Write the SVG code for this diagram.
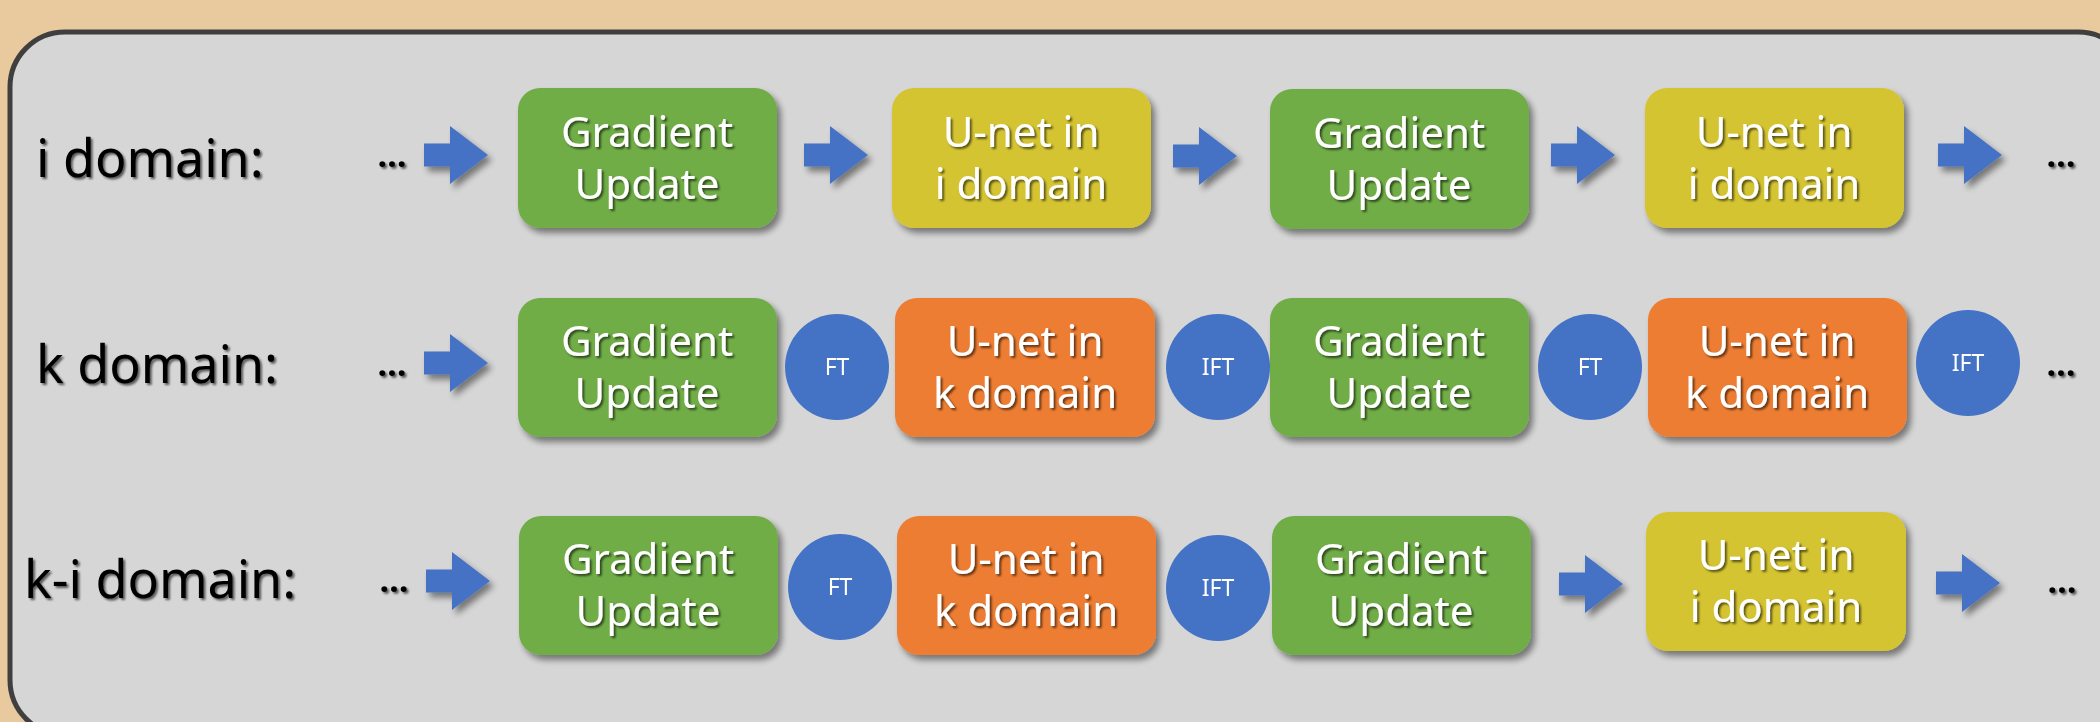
<svg xmlns="http://www.w3.org/2000/svg" width="2100" height="722" viewBox="0 0 2100 722">
<defs>
<filter id="sh" x="-10%" y="-10%" width="130%" height="130%">
<feGaussianBlur in="SourceAlpha" stdDeviation="3"/>
<feOffset dx="4" dy="5" result="b"/>
<feComponentTransfer><feFuncA type="linear" slope="0.45"/></feComponentTransfer>
<feMerge><feMergeNode/><feMergeNode in="SourceGraphic"/></feMerge>
</filter>
<filter id="tsh" x="-10%" y="-20%" width="130%" height="150%">
<feGaussianBlur in="SourceAlpha" stdDeviation="1.2"/>
<feOffset dx="2" dy="2"/>
<feComponentTransfer><feFuncA type="linear" slope="0.6"/></feComponentTransfer>
<feMerge><feMergeNode/><feMergeNode in="SourceGraphic"/></feMerge>
</filter>
<path id="arr" d="M0,-11.5 H26 V-29 L64,0 L26,29 V11.5 H0 Z"/>
</defs>
<style>
.green{fill:#70AD47}
.yellow{fill:#D4C433}
.orange{fill:#ED7D31}
.blue{fill:#4472C4}
.box text{font-family:"Noto Sans","DejaVu Sans",sans-serif;font-size:42px;fill:#FFFFFF;text-anchor:middle}
.circ text{font-family:"Noto Sans","DejaVu Sans",sans-serif;font-size:23px;fill:#FFFFFF;text-anchor:middle}
.lbl{font-family:"Noto Sans","DejaVu Sans",sans-serif;font-size:52px;fill:#000000}
.dots{font-family:"Noto Sans","DejaVu Sans",sans-serif;font-size:34px;font-weight:bold;fill:#000000;text-anchor:middle}
.arrow{fill:#4472C4}
</style>
<rect x="0" y="0" width="2100" height="722" fill="#E8CA9E"/>
<rect x="10" y="32" width="2123" height="703" rx="55" ry="55" fill="#D6D6D6" stroke="#3F3F3F" stroke-width="5"/>

<g id="labels">
<text class="lbl" x="36" y="177" filter="url(#tsh)">i domain:</text>
<text class="lbl" x="36" y="383" filter="url(#tsh)">k domain:</text>
<text class="lbl" x="24" y="598" filter="url(#tsh)">k-i domain:</text>
<text class="dots" x="392" y="167" filter="url(#tsh)">…</text>
<text class="dots" x="392" y="376" filter="url(#tsh)">…</text>
<text class="dots" x="394" y="592" filter="url(#tsh)">…</text>
<text class="dots" x="2061" y="167" filter="url(#tsh)">…</text>
<text class="dots" x="2061" y="376" filter="url(#tsh)">…</text>
<text class="dots" x="2062" y="593" filter="url(#tsh)">…</text>
</g>

<g id="connectors" filter="url(#sh)">
<use href="#arr" class="arrow" x="424" y="155"/>
<use href="#arr" class="arrow" x="804" y="155"/>
<use href="#arr" class="arrow" x="1173" y="156"/>
<use href="#arr" class="arrow" x="1551" y="155"/>
<use href="#arr" class="arrow" x="1938" y="155"/>
<use href="#arr" class="arrow" x="424" y="363"/>
<use href="#arr" class="arrow" x="426" y="581"/>
<use href="#arr" class="arrow" x="1559" y="584"/>
<use href="#arr" class="arrow" x="1936" y="583"/>
</g>

<!-- Row 1 -->
<g id="r1-grad1" class="box"><rect class="green" x="518" y="88" width="259" height="140" rx="22" filter="url(#sh)"/><g filter="url(#tsh)"><text x="647" y="147">Gradient</text><text x="647" y="199">Update</text></g></g>
<g id="r1-unet1" class="box"><rect class="yellow" x="892" y="88" width="259" height="140" rx="22" filter="url(#sh)"/><g filter="url(#tsh)"><text x="1021" y="147">U-net in</text><text x="1021" y="199">i domain</text></g></g>
<g id="r1-grad2" class="box"><rect class="green" x="1270" y="89" width="259" height="140" rx="22" filter="url(#sh)"/><g filter="url(#tsh)"><text x="1399" y="148">Gradient</text><text x="1399" y="200">Update</text></g></g>
<g id="r1-unet2" class="box"><rect class="yellow" x="1645" y="88" width="259" height="140" rx="22" filter="url(#sh)"/><g filter="url(#tsh)"><text x="1774" y="147">U-net in</text><text x="1774" y="199">i domain</text></g></g>

<!-- Row 2 -->
<g id="r2-grad1" class="box"><rect class="green" x="518" y="298" width="259" height="139" rx="22" filter="url(#sh)"/><g filter="url(#tsh)"><text x="647" y="356">Gradient</text><text x="647" y="408">Update</text></g></g>
<g id="r2-ft1" class="circ"><ellipse class="blue" cx="837" cy="367" rx="52" ry="53"/><text x="837" y="375">FT</text></g>
<g id="r2-unet1" class="box"><rect class="orange" x="895" y="298" width="260" height="139" rx="22" filter="url(#sh)"/><g filter="url(#tsh)"><text x="1025" y="356">U-net in</text><text x="1025" y="408">k domain</text></g></g>
<g id="r2-ift1" class="circ"><ellipse class="blue" cx="1218" cy="367" rx="52" ry="53"/><text x="1218" y="375">IFT</text></g>
<g id="r2-grad2" class="box"><rect class="green" x="1270" y="298" width="259" height="139" rx="22" filter="url(#sh)"/><g filter="url(#tsh)"><text x="1399" y="356">Gradient</text><text x="1399" y="408">Update</text></g></g>
<g id="r2-ft2" class="circ"><ellipse class="blue" cx="1590" cy="367" rx="52" ry="53"/><text x="1590" y="375">FT</text></g>
<g id="r2-unet2" class="box"><rect class="orange" x="1648" y="298" width="259" height="139" rx="22" filter="url(#sh)"/><g filter="url(#tsh)"><text x="1777" y="356">U-net in</text><text x="1777" y="408">k domain</text></g></g>
<g id="r2-ift2" class="circ"><ellipse class="blue" cx="1968" cy="363" rx="52" ry="53"/><text x="1968" y="371">IFT</text></g>

<!-- Row 3 -->
<g id="r3-grad1" class="box"><rect class="green" x="519" y="516" width="259" height="139" rx="22" filter="url(#sh)"/><g filter="url(#tsh)"><text x="648" y="574">Gradient</text><text x="648" y="626">Update</text></g></g>
<g id="r3-ft" class="circ"><ellipse class="blue" cx="840" cy="587" rx="52" ry="53"/><text x="840" y="595">FT</text></g>
<g id="r3-unet1" class="box"><rect class="orange" x="897" y="516" width="259" height="139" rx="22" filter="url(#sh)"/><g filter="url(#tsh)"><text x="1026" y="574">U-net in</text><text x="1026" y="626">k domain</text></g></g>
<g id="r3-ift" class="circ"><ellipse class="blue" cx="1218" cy="588" rx="52" ry="53"/><text x="1218" y="596">IFT</text></g>
<g id="r3-grad2" class="box"><rect class="green" x="1272" y="516" width="259" height="139" rx="22" filter="url(#sh)"/><g filter="url(#tsh)"><text x="1401" y="574">Gradient</text><text x="1401" y="626">Update</text></g></g>
<g id="r3-unet2" class="box"><rect class="yellow" x="1646" y="512" width="260" height="139" rx="22" filter="url(#sh)"/><g filter="url(#tsh)"><text x="1776" y="570">U-net in</text><text x="1776" y="622">i domain</text></g></g>
</svg>
